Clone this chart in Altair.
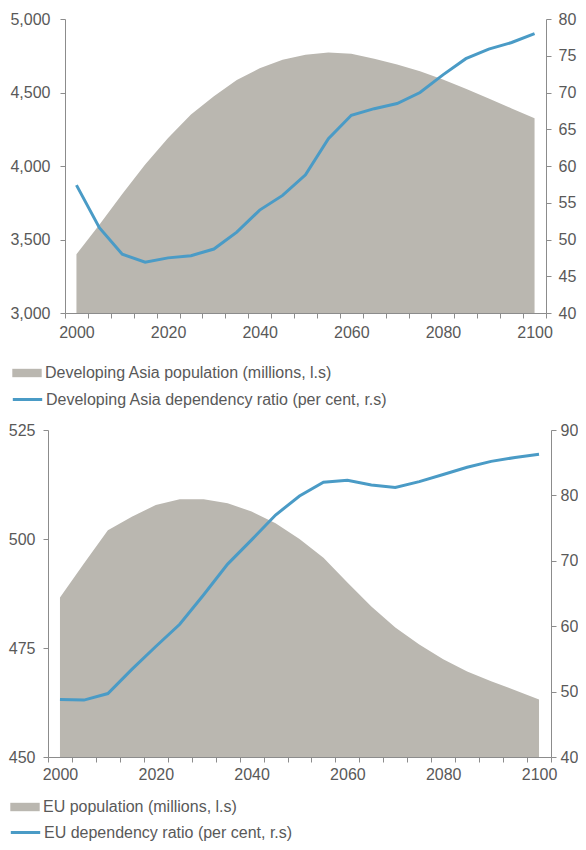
import altair as alt
import pandas as pd

# ---------------- data ----------------
years = [2000, 2005, 2010, 2015, 2020, 2025, 2030, 2035, 2040, 2045, 2050,
         2055, 2060, 2065, 2070, 2075, 2080, 2085, 2090, 2095, 2100]

asia_population = [3400, 3600, 3810, 4010, 4190, 4350, 4475, 4585, 4665, 4722, 4757,
                   4772, 4763, 4730, 4690, 4644, 4588, 4525, 4459, 4392, 4324]
asia_dependency = [57.4, 51.6, 48.0, 46.9, 47.5, 47.8, 48.7, 51.0, 54.0, 56.0, 58.8,
                   63.7, 66.9, 67.8, 68.5, 70.0, 72.4, 74.6, 75.9, 76.8, 78.0]

eu_population = [486.6, 494.4, 502.0, 505.1, 507.8, 509.1, 509.1, 508.2, 506.3, 503.6, 500.0,
                 495.7, 490.0, 484.5, 479.7, 475.8, 472.4, 469.6, 467.4, 465.3, 463.2]
eu_dependency = [48.8, 48.7, 49.7, 53.4, 56.9, 60.3, 64.8, 69.5, 73.2, 77.0, 79.9,
                 82.0, 82.3, 81.6, 81.2, 82.1, 83.2, 84.3, 85.2, 85.8, 86.3]

asia_pop_ticks = [3000, 3500, 4000, 4500, 5000]
asia_dep_ticks = [40, 45, 50, 55, 60, 65, 70, 75, 80]
eu_pop_ticks = [450, 475, 500, 525]
eu_dep_ticks = [40, 50, 60, 70, 80, 90]

asia_pop_label = "Developing Asia population (millions, l.s)"
asia_dep_label = "Developing Asia dependency ratio (per cent, r.s)"
eu_pop_label = "EU population (millions, l.s)"
eu_dep_label = "EU dependency ratio (per cent, r.s)"

# ---------------- style ----------------
FONT = "Liberation Sans"
GRAY = "#BAB7B0"
BLUE = "#4A9BC6"
TEXT = "#595959"
AXIS = "#8C8C8C"

AREA_SYMBOL = "M-2.1,-0.6H2.1V0.6H-2.1Z"
LINE_SYMBOL = "M-2.1,0H2.1"


def panel(pop, dep, pop_label, dep_label, pop_ticks, dep_ticks, width, height, inset,
          left_pad, right_pad, bottom_pad, leg_x, leg_y1, leg_y2):
    df = pd.DataFrame({
        "year": years,
        "population": pop,
        "dependency": dep,
        "pop_series": pop_label,
        "dep_series": dep_label,
    })
    x = alt.X(
        "year:O", title=None,
        scale=alt.Scale(type="band", paddingInner=0, paddingOuter=0, range=[inset, width]),
        axis=alt.Axis(tickBand="extent", labelAngle=0, labelOverlap=False,
                      labelExpr="datum.value % 20 === 0 ? datum.label : ''",
                      labelPadding=bottom_pad, tickSize=5, domainColor=AXIS, tickColor=AXIS),
    )
    area = alt.Chart(df).mark_area(clip=True).encode(
        x=x,
        y=alt.Y("population:Q", title=None,
                scale=alt.Scale(domain=[pop_ticks[0], pop_ticks[-1]], zero=False, nice=False),
                axis=alt.Axis(orient="left", values=pop_ticks, format=",d", offset=-inset,
                              labelPadding=left_pad, tickSize=5,
                              domainColor=AXIS, tickColor=AXIS)),
        fill=alt.Fill("pop_series:N",
                      scale=alt.Scale(domain=[pop_label], range=[GRAY]),
                      legend=alt.Legend(title=None, orient="none", legendX=leg_x, legendY=leg_y1,
                                        symbolType=AREA_SYMBOL, symbolSize=196,
                                        symbolStrokeWidth=0, labelOffset=10)),
    )
    line = alt.Chart(df).mark_line(strokeWidth=3, clip=True).encode(
        x=x,
        y=alt.Y("dependency:Q", title=None,
                scale=alt.Scale(domain=[dep_ticks[0], dep_ticks[-1]], zero=False, nice=False),
                axis=alt.Axis(orient="right", values=dep_ticks,
                              labelPadding=right_pad, tickSize=5,
                              domainColor=AXIS, tickColor=AXIS)),
        stroke=alt.Stroke("dep_series:N",
                          scale=alt.Scale(domain=[dep_label], range=[BLUE]),
                          legend=alt.Legend(title=None, orient="none", legendX=leg_x, legendY=leg_y2,
                                            symbolType=LINE_SYMBOL, symbolSize=196,
                                            symbolStrokeWidth=3, labelOffset=10)),
    )
    return alt.layer(area, line).resolve_scale(y="independent").properties(width=width, height=height)


top = panel(asia_population, asia_dependency, asia_pop_label, asia_dep_label,
            asia_pop_ticks, asia_dep_ticks, 498, 294, 17,
            10, 7, 6, -29, 346, 372)
bottom = panel(eu_population, eu_dependency, eu_pop_label, eu_dep_label,
               eu_pop_ticks, eu_dep_ticks, 503, 327, 0,
               8, 4, 4, -31, 369, 394)

chart = alt.concat(top, bottom, columns=1, spacing=14, align="none").resolve_scale(
    fill="independent", stroke="independent"
).properties(
    padding={"left": 0, "top": 3, "right": 0, "bottom": 0}
).configure_view(stroke=None).configure_axis(
    labelFont=FONT, labelFontSize=16, labelColor=TEXT, grid=False
).configure_legend(
    labelFont=FONT, labelFontSize=16, labelColor=TEXT, labelLimit=600
)

chart.save("out.html", embed_options={"renderer": "svg", "actions": False})
